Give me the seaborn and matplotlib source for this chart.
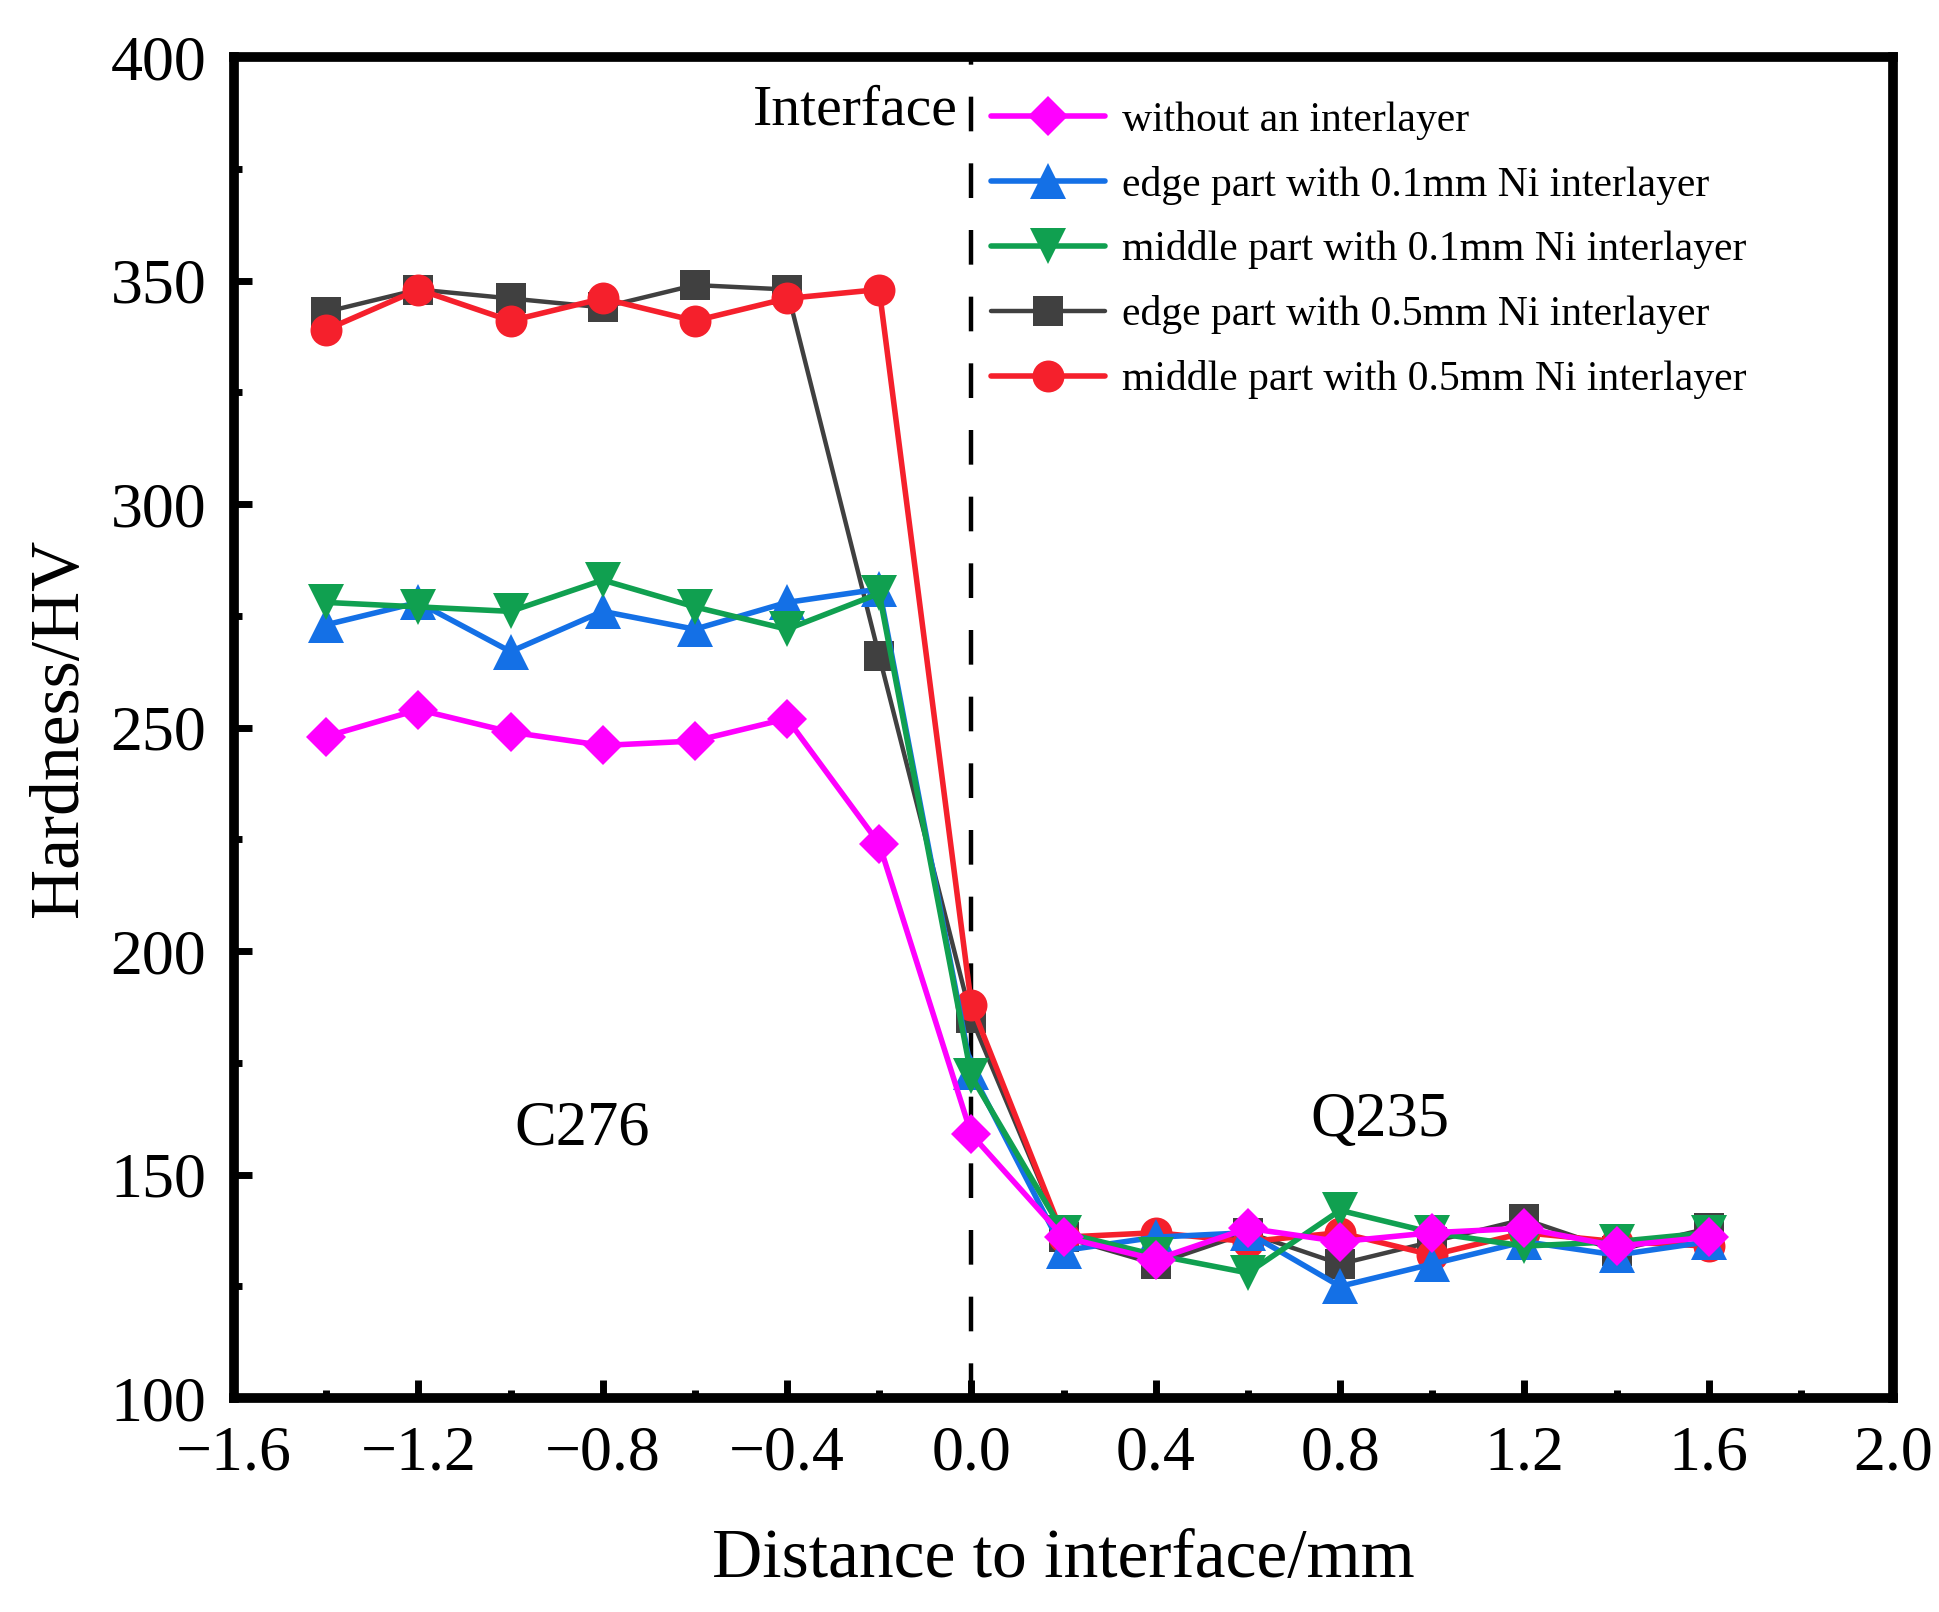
import numpy as np
import pandas as pd
import matplotlib
matplotlib.use("Agg")
import matplotlib.pyplot as plt
from matplotlib.ticker import AutoMinorLocator
import seaborn as sns

# distance to interface (mm)
distance = [-1.4, -1.2, -1.0, -0.8, -0.6, -0.4, -0.2, 0.0,
            0.2, 0.4, 0.6, 0.8, 1.0, 1.2, 1.4, 1.6]

# hardness values (HV)
hv_none = [248, 254, 249, 246, 247, 252, 224, 159,
           136, 131, 138, 135, 137, 138, 134, 136]
hv_edge_01 = [273, 278, 267, 276, 272, 278, 281, 173,
              133, 136, 137, 125, 130, 135, 132, 135]
hv_mid_01 = [278, 277, 276, 283, 277, 272, 280, 172,
             137, 132, 128, 142, 137, 134, 135, 137]
hv_edge_05 = [343, 348, 346, 344, 349, 348, 266, 185,
              136, 130, 137, 130, 135, 140, 133, 138]
hv_mid_05 = [339, 348, 341, 346, 341, 346, 348, 188,
             136, 137, 135, 137, 132, 137, 135, 134]

labels = ["without an interlayer",
          "edge part with 0.1mm Ni interlayer",
          "middle part with 0.1mm Ni interlayer",
          "edge part with 0.5mm Ni interlayer",
          "middle part with 0.5mm Ni interlayer"]

x_ticks = [-1.6, -1.2, -0.8, -0.4, 0.0, 0.4, 0.8, 1.2, 1.6, 2.0]
y_ticks = [100, 150, 200, 250, 300, 350, 400]

sns.set_style("ticks")
plt.rcParams["font.family"] = ["Liberation Serif", "DejaVu Serif"]
plt.rcParams["axes.unicode_minus"] = True
for k in ["text.color", "axes.labelcolor", "xtick.color", "ytick.color"]:
    plt.rcParams[k] = "black"

fig = plt.figure(figsize=(19.39, 16.12), dpi=100)
ax = fig.add_axes([0.1207, 0.1327, 0.8556, 0.8319])

# style per series: colour, marker, size, line width, zorder
styles = [
    ("#FF00FF", "D", 20, 4.0, 7),
    ("#1470E6", "^", 26, 4.0, 5),
    ("#10A050", "v", 26, 4.0, 6),
    ("#404040", "s", 21, 3.2, 3),
    ("#F5202C", "o", 23, 4.0, 4),
]
series = [hv_none, hv_edge_01, hv_mid_01, hv_edge_05, hv_mid_05]

for vals, lab, (col, mk, ms, lw, z) in zip(series, labels, styles):
    df = pd.DataFrame({"x": distance, "y": vals})
    sns.lineplot(data=df, x="x", y="y", ax=ax, color=col, marker=mk,
                 markersize=ms, markeredgewidth=0, linewidth=lw,
                 label=lab, zorder=z, estimator=None, sort=False)

# interface line
ax.axvline(0.0, color="black", linewidth=3.2, linestyle=(0, (7.8, 7.2)), zorder=2)

ax.set_xlim(-1.6, 2.0)
ax.set_ylim(100, 400)
ax.set_xticks(x_ticks)
ax.set_yticks(y_ticks)
ax.xaxis.set_minor_locator(AutoMinorLocator(2))
ax.yaxis.set_minor_locator(AutoMinorLocator(2))
ax.set_xticklabels([f"{v:.1f}".replace("-", "\u2212") for v in x_ticks])

for sp in ax.spines.values():
    sp.set_linewidth(7)
    sp.set_color("black")
ax.tick_params(which="major", direction="in", length=13, width=5,
               labelsize=46, pad=20, top=False, right=False)
ax.tick_params(which="minor", direction="in", length=6, width=5,
               top=False, right=False)

ax.set_xlabel("Distance to interface/mm", fontsize=50, labelpad=32)
ax.set_ylabel("Hardness/HV", fontsize=50, labelpad=13)

ax.text(-0.03, 388, "Interface", fontsize=41.5, ha="right", va="center")
ax.text(-0.845, 160, "C276", fontsize=45, ha="center", va="center")
ax.text(0.887, 162, "Q235", fontsize=45, ha="center", va="center")

leg = ax.legend(loc="upper left", bbox_to_anchor=(0.456, 0.967), frameon=False,
                fontsize=30, handlelength=2.75, handletextpad=0.4,
                labelspacing=0.62, borderpad=0, borderaxespad=0)

fig.savefig("out.png", dpi=100)
